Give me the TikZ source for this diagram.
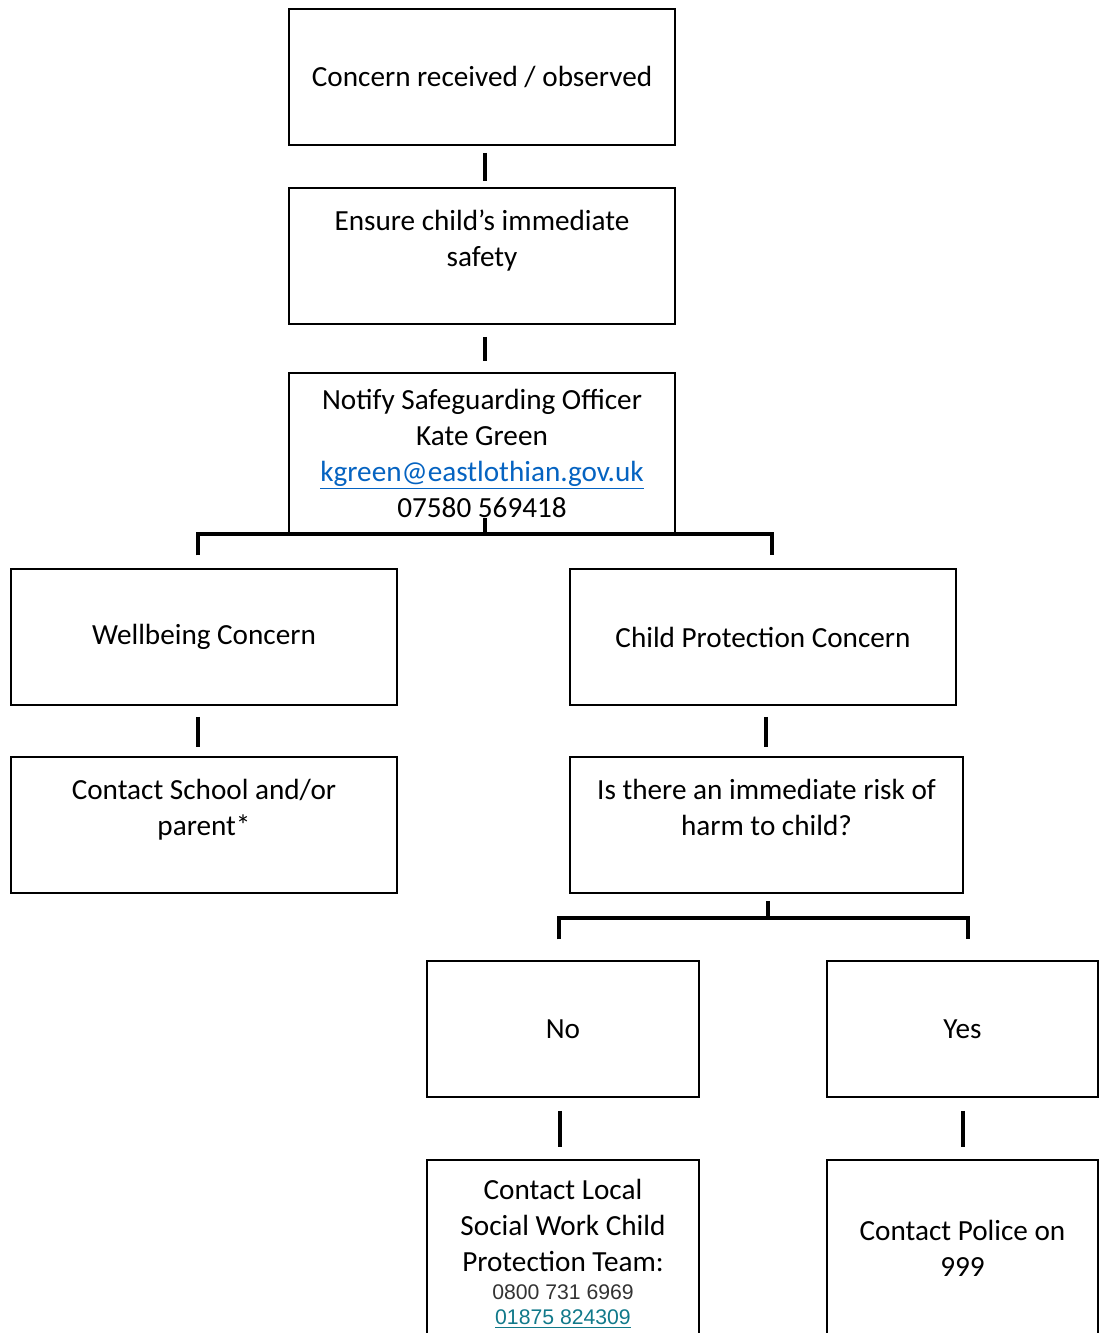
\documentclass[tikz,border=0pt]{standalone}
\usepackage{fontspec}
\setmainfont{Carlito}
\newfontfamily\arialfont{Liberation Sans}
\usetikzlibrary{positioning, calc}

\definecolor{maillink}{RGB}{5,99,193}
\definecolor{phonelink}{RGB}{17,121,138}
\definecolor{phonegray}{RGB}{51,51,51}

\begin{document}
\begin{tikzpicture}[x=0.5pt, y=-0.5pt, line cap=butt, line join=miter]
	
	%======================
	% STYLES
	%======================
	\tikzset{
		box/.style={draw, line width=0.75pt, align=center, inner sep=0pt,
			minimum width=193pt, minimum height=68pt,
			font=\fontsize{14.6}{18}\selectfont},
		narrowbox/.style={box, minimum width=136pt},
		tallbox/.style={narrowbox, minimum height=88pt},
		link/.style={line width=2pt, black}
	}
	\newcommand{\smallnum}[1]{{\arialfont\fontsize{10.6}{12.5}\selectfont #1}}
	
	\useasboundingbox (0,0) rectangle (1098,1333);
	
	%======================
	% TOP COLUMN
	%======================
	\node[box] (concern) at (482,77) {Concern received / observed};
	\node[box] (ensure) at (482,256) {Ensure child’s immediate\\ safety\\ \mbox{}};
	\node[box, minimum height=80pt] (notify) at (482,453)
	{Notify Safeguarding Officer\\ Kate Green\\
		\textcolor{maillink}{\underline{kgreen@eastlothian.gov.uk}}\\ 07580 569418};
	
	%======================
	% SECOND LEVEL
	%======================
	\node[box] (wellbeing) at (204,637) {Wellbeing Concern};
	\node[box] (protect) at (763,637) {Child Protection Concern};
	\node[box] (school) at (204,825) {Contact School and/or\\ parent*\\ \mbox{}};
	\node[box, minimum width=196.5pt] (risk) at (766.5,825)
	{Is there an immediate risk of\\ harm to child?\\ \mbox{}};
	
	%======================
	% DECISION
	%======================
	\node[narrowbox] (no) at (563,1029) {No};
	\node[narrowbox, minimum width=135.5pt] (yes) at (962.5,1029) {Yes};
	\node[tallbox, minimum height=94pt] (social) at (563,1254)
	{Contact Local\\ Social Work Child\\ Protection Team:\\[-3.75pt]
		\smallnum{\textcolor{phonegray}{0800 731 6969}}\\[-5.5pt]
		\smallnum{\textcolor{phonelink}{\underline{01875 824309}}}};
	\node[tallbox, minimum width=135.5pt] (police) at (962.5,1248)
	{Contact Police on\\ 999};
	
	%======================
	% CONNECTORS
	%======================
	\draw[link] ([xshift=1.5pt,yshift=-3.5pt]concern.south) -- ([xshift=1.5pt,yshift=3pt]ensure.north);
	\draw[link] ([xshift=1.5pt,yshift=-6pt]ensure.south) -- ([xshift=1.5pt,yshift=5.5pt]notify.north);
	
	% first fork
	\coordinate (fork1) at ([xshift=1.5pt]notify.south);
	\coordinate (dropL) at ([xshift=-3pt,yshift=6.5pt]wellbeing.north);
	\coordinate (dropR) at ([xshift=4.5pt,yshift=6.5pt]protect.north);
	\draw[link] ([yshift=8pt]fork1) -- (fork1);
	\draw[link] (dropL) |- (fork1) -| (dropR);
	
	\draw[link] ([xshift=-3pt,yshift=-5.5pt]wellbeing.south) -- ([xshift=-3pt,yshift=4.5pt]school.north);
	\draw[link] ([xshift=1.5pt,yshift=-5.5pt]protect.south) -- ([xshift=-0.25pt,yshift=4.5pt]risk.north);
	
	% second fork
	\coordinate (fork2) at ([xshift=0.75pt,yshift=-12pt]risk.south);
	\coordinate (dropNo) at ([xshift=-2pt,yshift=10.5pt]no.north);
	\coordinate (dropYes) at ([xshift=2.75pt,yshift=10.5pt]yes.north);
	\draw[link] ([xshift=0.75pt,yshift=-3.5pt]risk.south) -- (fork2);
	\draw[link] (dropNo) |- (fork2) -| (dropYes);
	
	\draw[link] ([xshift=-1.5pt,yshift=-6.5pt]no.south) -- ([xshift=-1.5pt,yshift=6pt]social.north);
	\draw[link] ([yshift=-6.5pt]yes.south) -- ([yshift=6pt]police.north);
	
\end{tikzpicture}
\end{document}
